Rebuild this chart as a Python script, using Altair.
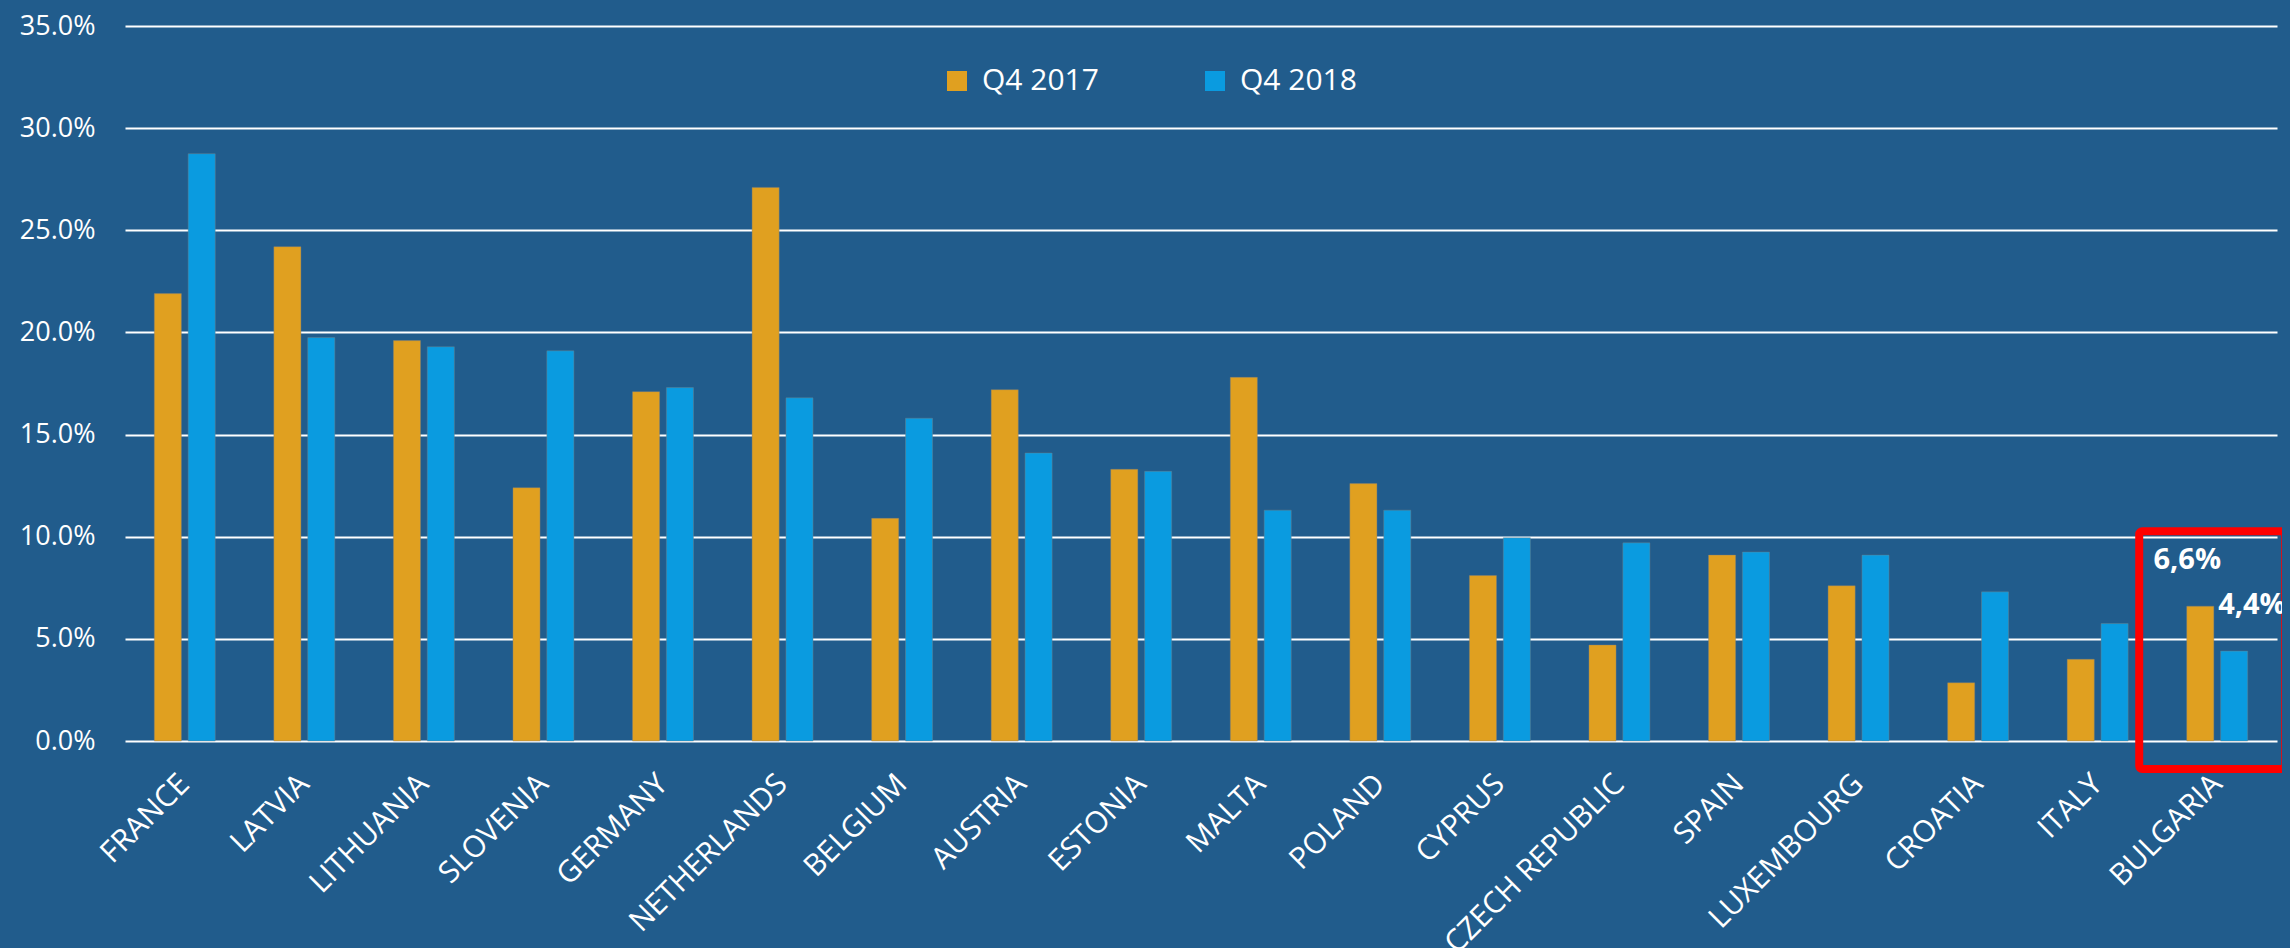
import altair as alt
import pandas as pd

# ---------------- data ----------------
countries = ["FRANCE", "LATVIA", "LITHUANIA", "SLOVENIA", "GERMANY", "NETHERLANDS",
             "BELGIUM", "AUSTRIA", "ESTONIA", "MALTA", "POLAND", "CYPRUS",
             "CZECH REPUBLIC", "SPAIN", "LUXEMBOURG", "CROATIA", "ITALY", "BULGARIA"]
q4_2017 = [21.9, 24.2, 19.6, 12.4, 17.1, 27.1, 10.9, 17.2, 13.3, 17.8, 12.6, 8.1,
           4.7, 9.1, 7.6, 2.85, 4.0, 6.6]
q4_2018 = [28.75, 19.75, 19.3, 19.1, 17.3, 16.8, 15.8, 14.1, 13.2, 11.3, 11.3, 9.95,
           9.7, 9.25, 9.1, 7.3, 5.75, 4.4]
series = ["Q4 2017", "Q4 2018"]
colors = ["#E0A020", "#0A9BE0"]
y_ticks = [0.0, 0.05, 0.10, 0.15, 0.20, 0.25, 0.30, 0.35]

highlight_country = "BULGARIA"
box_top = [0.1027]
box_bottom = [-0.0137]

BG = "#215C8C"
FONT = "Open Sans"

rows = []
for c, a, b in zip(countries, q4_2017, q4_2018):
    rows.append({"country": c, "series": series[0], "value": a / 100})
    rows.append({"country": c, "series": series[1], "value": b / 100})
df = pd.DataFrame(rows)
df["label"] = df["value"].map(lambda v: f"{v * 100:.1f}".replace(".", ",") + "%")

box_df = pd.DataFrame({"country": [highlight_country], "top": box_top, "bottom": box_bottom})

# ---------------- encodings ----------------
x_enc = alt.X(
    "country:N", sort=countries,
    scale=alt.Scale(paddingInner=0.49, paddingOuter=0.245, round=False),
    axis=alt.Axis(title=None, domain=False, ticks=False, grid=False,
                  labelAngle=-45, labelAlign="right", labelBaseline="middle",
                  labelPadding=38, labelFontSize=30, labelFont=FONT,
                  labelColor="white", labelOverlap=False, labelLimit=400),
)
xo_enc = alt.XOffset("series:N", sort=series,
                     scale=alt.Scale(paddingInner=0.2, paddingOuter=0, round=False))
y_enc = alt.Y(
    "value:Q",
    scale=alt.Scale(domain=[0, 0.35], nice=False, zero=True),
    axis=alt.Axis(title=None, values=y_ticks, format=".1%", domain=False, ticks=False,
                  grid=True, gridColor="white", gridWidth=2, gridOpacity=1,
                  labelFontSize=27, labelFont=FONT, labelColor="white",
                  labelPadding=30),
)

bars = alt.Chart(df).mark_bar(stroke="#808080", strokeOpacity=0.4, strokeWidth=1).encode(
    x=x_enc,
    xOffset=xo_enc,
    y=y_enc,
    color=alt.Color(
        "series:N",
        scale=alt.Scale(domain=series, range=colors),
        legend=alt.Legend(title=None, orient="none", direction="horizontal",
                          legendX=817, legendY=40, symbolType="square",
                          symbolSize=400, symbolStrokeWidth=0,
                          labelFontSize=30, labelFont=FONT, labelColor="white",
                          labelOffset=10, columnPadding=101, padding=0,
                          labelLimit=400),
    ),
)

txt_a = alt.Chart(df).transform_filter(
    (alt.datum.country == highlight_country) & (alt.datum.series == series[0])
).mark_text(align="center", baseline="alphabetic", dx=-13, dy=-37,
            fontSize=29, fontWeight="bold", font=FONT, color="white").encode(
    x=alt.X("country:N", sort=countries), xOffset=alt.XOffset("series:N", sort=series),
    y=alt.Y("value:Q"), text="label:N")

txt_b = alt.Chart(df).transform_filter(
    (alt.datum.country == highlight_country) & (alt.datum.series == series[1])
).mark_text(align="left", baseline="alphabetic", dx=-16, dy=-37,
            fontSize=29, fontWeight="bold", font=FONT, color="white").encode(
    x=alt.X("country:N", sort=countries), xOffset=alt.XOffset("series:N", sort=series),
    y=alt.Y("value:Q"), text="label:N")

box = alt.Chart(box_df).mark_rect(
    width=146, xOffset=-5, fillOpacity=0, stroke="#FF0000", strokeWidth=8,
    cornerRadius=3,
).encode(x=alt.X("country:N", sort=countries), y=alt.Y("top:Q"), y2="bottom:Q")

chart = alt.layer(bars, box, txt_a, txt_b).properties(
    width=2152, height=715,
    autosize=alt.AutoSizeParams(type="none"),
    padding={"left": 117, "top": 18, "right": 13, "bottom": 207},
    background=BG,
).configure_view(stroke=None)

# page background colour to match the chart background; keep the svg at full size
try:
    import altair.utils.mimebundle as _mb
    _orig_spec_to_html = _mb.spec_to_html

    def _patched_spec_to_html(*args, **kwargs):
        html = _orig_spec_to_html(*args, **kwargs)
        css = ("<style>html,body{background:%s;overflow:hidden;}"
               ".vega-embed svg, #vis svg{flex-shrink:0;max-width:none;}</style>" % BG)
        return html.replace("<head>", "<head>" + css, 1)

    _mb.spec_to_html = _patched_spec_to_html
except Exception:
    pass

chart.save("out.html", embed_options={"renderer": "svg", "actions": False})
